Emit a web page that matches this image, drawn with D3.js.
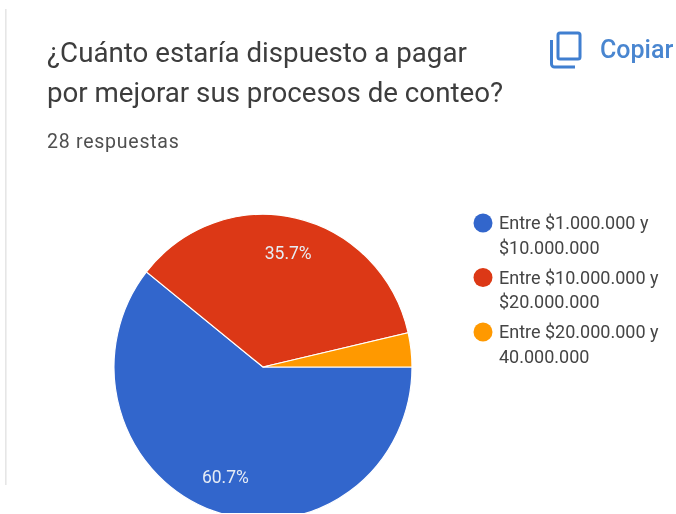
<!DOCTYPE html>
<html><head><meta charset="utf-8">
<script src="https://cdn.jsdelivr.net/npm/d3@7"></script>
<style>html,body{margin:0;padding:0;background:#fff}svg{display:block}text{font-family:Roboto,sans-serif}</style>
</head><body><svg id="c" width="676" height="514"></svg>
<script>
const categories=[["Entre $1.000.000 y","$10.000.000"],["Entre $10.000.000 y","$20.000.000"],["Entre $20.000.000 y","40.000.000"]];
const values=[60.7,35.7,3.6];
const sliceLabels=["60.7%","35.7%",""];
const colors=["#3366cc","#dc3912","#ff9900"];
const titleLines=["¿Cuánto estaría dispuesto a pagar","por mejorar sus procesos de conteo?"];
const subtitle="28 respuestas";
const copyLabel="Copiar";

const svg=d3.select("#c");
const defs=svg.append("defs");
defs.append("filter").attr("id","soft").append("feGaussianBlur").attr("stdDeviation",0.5);
defs.append("clipPath").attr("id","crop").append("rect").attr("width",676).attr("height",513);
const root=svg.append("g").attr("clip-path","url(#crop)").append("g").attr("filter","url(#soft)");

root.append("rect").attr("x",5).attr("y",9).attr("width",1.6).attr("height",476).attr("fill","#e6e6e6");

root.selectAll(".t").data(titleLines).join("text").attr("class","t")
 .attr("x",47).attr("y",(d,i)=>62+i*40).attr("font-size",27.7).attr("fill","#3c3c3c").text(d=>d);
root.append("text").attr("x",47).attr("y",148).attr("font-size",19.5).attr("letter-spacing",0.75).attr("fill","#505050").text(subtitle);

const ic=root.append("g").attr("fill","none").attr("stroke","#3f7fd0").attr("stroke-width",3);
ic.append("rect").attr("x",558).attr("y",33).attr("width",22).attr("height",26).attr("rx",2);
ic.append("path").attr("d","M551.5 40V64a3 3 0 0 0 3 3H575");
root.append("text").attr("x",600).attr("y",58).attr("font-size",25).attr("font-weight",500).attr("fill","#4a86d0").text(copyLabel);

const cx=263,cy=367,r=149;
const pie=d3.pie().sort(null).startAngle(Math.PI/2).endAngle(Math.PI*2.5).value(d=>d);
const arcs=pie(values);
const arc=d3.arc().innerRadius(0).outerRadius(r);
const g=root.append("g").attr("transform",`translate(${cx},${cy}) scale(1,1.025)`);
g.selectAll("path").data(arcs).join("path").attr("d",arc)
 .attr("fill",(d,i)=>colors[i]).attr("stroke","#fff").attr("stroke-width",1.2);
const labelArc=d3.arc().innerRadius(r*0.765).outerRadius(r*0.765);
g.selectAll("text").data(arcs).join("text")
 .attr("transform",d=>`translate(${labelArc.centroid(d)}) scale(1,${1/1.025})`)
 .attr("text-anchor","middle").attr("dy","0.35em").attr("font-size",17.5).attr("fill","#e6ecf5")
 .text((d,i)=>sliceLabels[i]);

const ly=d3.scalePoint().domain(d3.range(categories.length)).range([223,332]);
const leg=root.selectAll(".l").data(categories).join("g").attr("class","l").attr("transform",(d,i)=>`translate(483,${ly(i)})`);
leg.append("circle").attr("r",9.5).attr("fill",(d,i)=>colors[i]);
leg.selectAll("text").data(d=>d).join("text").attr("x",16).attr("y",(d,i)=>6+i*24.5)
 .attr("font-size",18).attr("fill","#444").text(d=>d);
</script></body></html>
